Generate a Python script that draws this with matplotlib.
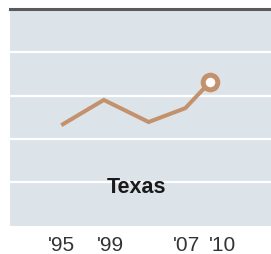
import matplotlib
matplotlib.use("Agg")
import matplotlib.pyplot as plt

# Data
years = [1995, 1999, 2003.4, 2007, 2009.4]
values = [2.34, 2.90, 2.39, 2.71, 3.31]
tick_positions = [1994.85, 1999.7, 2007.1, 2010.6]
tick_labels = ["'95", "'99", "'07", "'10"]
label = "Texas"

bg = "#dde4e9"
line_color = "#c4916d"

fig = plt.figure(figsize=(2.71, 2.55), dpi=100)
fig.patch.set_facecolor("white")
ax = fig.add_axes([10/271, (255-226.5)/255, 1 - 10/271, (226.5-10)/255])
ax.set_facecolor(bg)
ax.set_xlim(1989.8, 2015.4)
ax.set_ylim(0, 5)

for y in [1, 2, 3, 4]:
    ax.axhline(y, color="white", lw=1.6, zorder=1)
ax.axhline(5, color="#5a5a5a", lw=2.2, zorder=3, clip_on=False)

ax.plot(years, values, color=line_color, lw=2.9, solid_joinstyle="miter", zorder=2)
ax.plot(years[-1], values[-1], marker="o", ms=10.5, mfc="white", mec=line_color, mew=3.6, zorder=4)

ax.text(0.484, 0.18, label, transform=ax.transAxes, ha="center", va="center",
        fontsize=15.5, fontweight="bold", color="#1a1a1a", family="Liberation Sans")

ax.set_xticks(tick_positions)
ax.set_xticklabels(tick_labels, fontsize=15, color="#333333", family="Liberation Sans")
ax.tick_params(axis="x", length=0, pad=6.5)
ax.set_yticks([])
for s in ax.spines.values():
    s.set_visible(False)

fig.savefig("out.png", dpi=100, facecolor="white")
